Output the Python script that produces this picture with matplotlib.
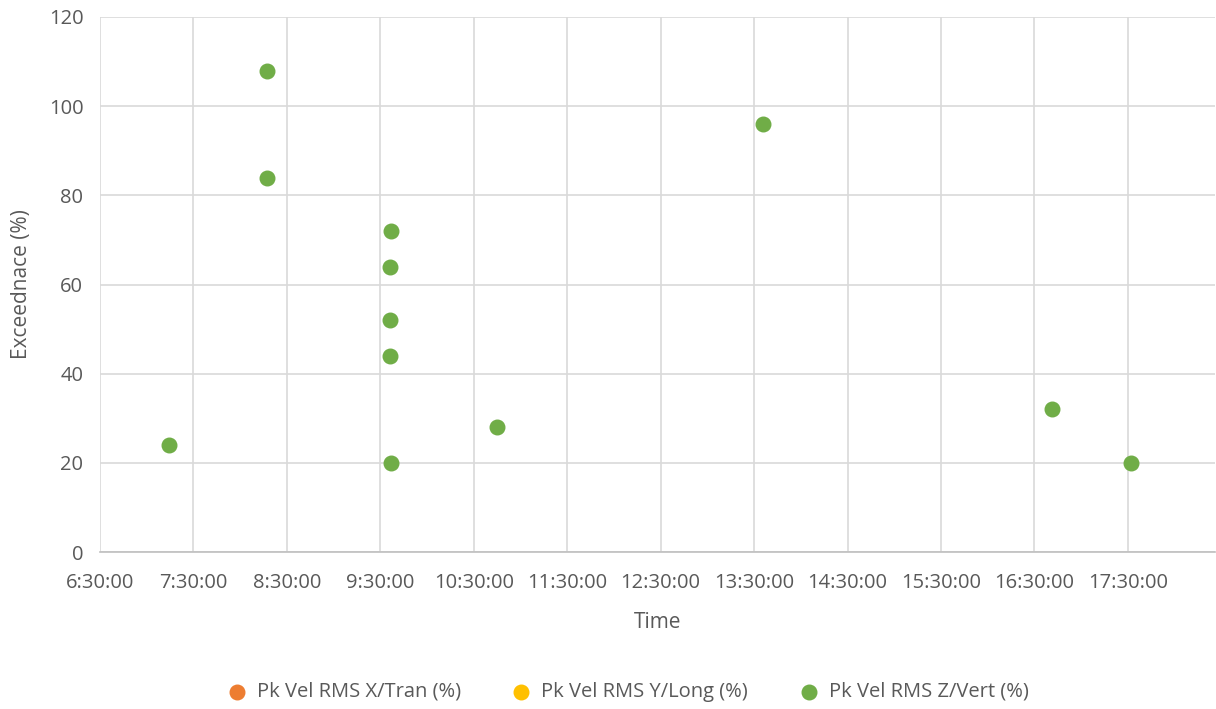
import numpy as np
import matplotlib.pyplot as plt
from matplotlib.ticker import FixedLocator

# data
times_z = ["7:14:00", "8:17:00", "8:17:00", "9:37:00", "9:36:00", "9:36:00",
           "9:36:00", "9:37:00", "10:45:00", "13:36:00", "16:41:00", "17:32:00"]
exceed_z = [24, 108, 84, 72, 64, 52, 44, 20, 28, 96, 32, 20]
times_x = []
exceed_x = []
times_y = []
exceed_y = []

tick_labels = ["6:30:00", "7:30:00", "8:30:00", "9:30:00", "10:30:00", "11:30:00",
               "12:30:00", "13:30:00", "14:30:00", "15:30:00", "16:30:00", "17:30:00"]


def to_hours(s):
    h, m, sec = [int(v) for v in s.split(":")]
    return h + m / 60 + sec / 3600


grey = "#595959"
plt.rcParams['font.family'] = ['Open Sans', 'DejaVu Sans']

fig = plt.figure(figsize=(12.16, 7.09), dpi=100)
ax = fig.add_axes([100 / 1216, 1 - 552 / 709, 1 - 100 / 1216 - 0.001, (552 - 17) / 709])

ax.scatter([to_hours(t) for t in times_x], exceed_x, s=110, color="#ED7D31",
           label="Pk Vel RMS X/Tran (%)", zorder=3)
ax.scatter([to_hours(t) for t in times_y], exceed_y, s=110, color="#FFC000",
           label="Pk Vel RMS Y/Long (%)", zorder=3)
ax.scatter([to_hours(t) for t in times_z], exceed_z, s=110, color="#70AD47",
           label="Pk Vel RMS Z/Vert (%)", zorder=3)

xt = [to_hours(t) for t in tick_labels]
ax.set_xlim(6.5, 18.43)
ax.set_ylim(0, 120)
ax.xaxis.set_major_locator(FixedLocator(xt))
ax.set_xticklabels(tick_labels)
ax.set_yticks(range(0, 121, 20))

ax.grid(True, color="#D9D9D9", linewidth=1.2)
ax.set_axisbelow(True)
for s in ["top", "right", "left"]:
    ax.spines[s].set_visible(False)
ax.spines["bottom"].set_color("#BFBFBF")
ax.spines["bottom"].set_linewidth(1.2)
ax.tick_params(length=0, labelsize=14.5, colors=grey)
ax.tick_params(axis="x", pad=15)
ax.tick_params(axis="y", pad=12)

ax.set_xlabel("Time", fontsize=15, color=grey, labelpad=14)
ax.set_ylabel("Exceednace (%)", fontsize=15, color=grey, labelpad=12)

fig.legend(loc="center", bbox_to_anchor=(0.512, 1 - 692 / 709), ncol=3, frameon=False,
           fontsize=14.5, labelcolor=grey, handletextpad=0.0, columnspacing=2.0,
           markerscale=1.0)

fig.savefig("out.png", dpi=100)
